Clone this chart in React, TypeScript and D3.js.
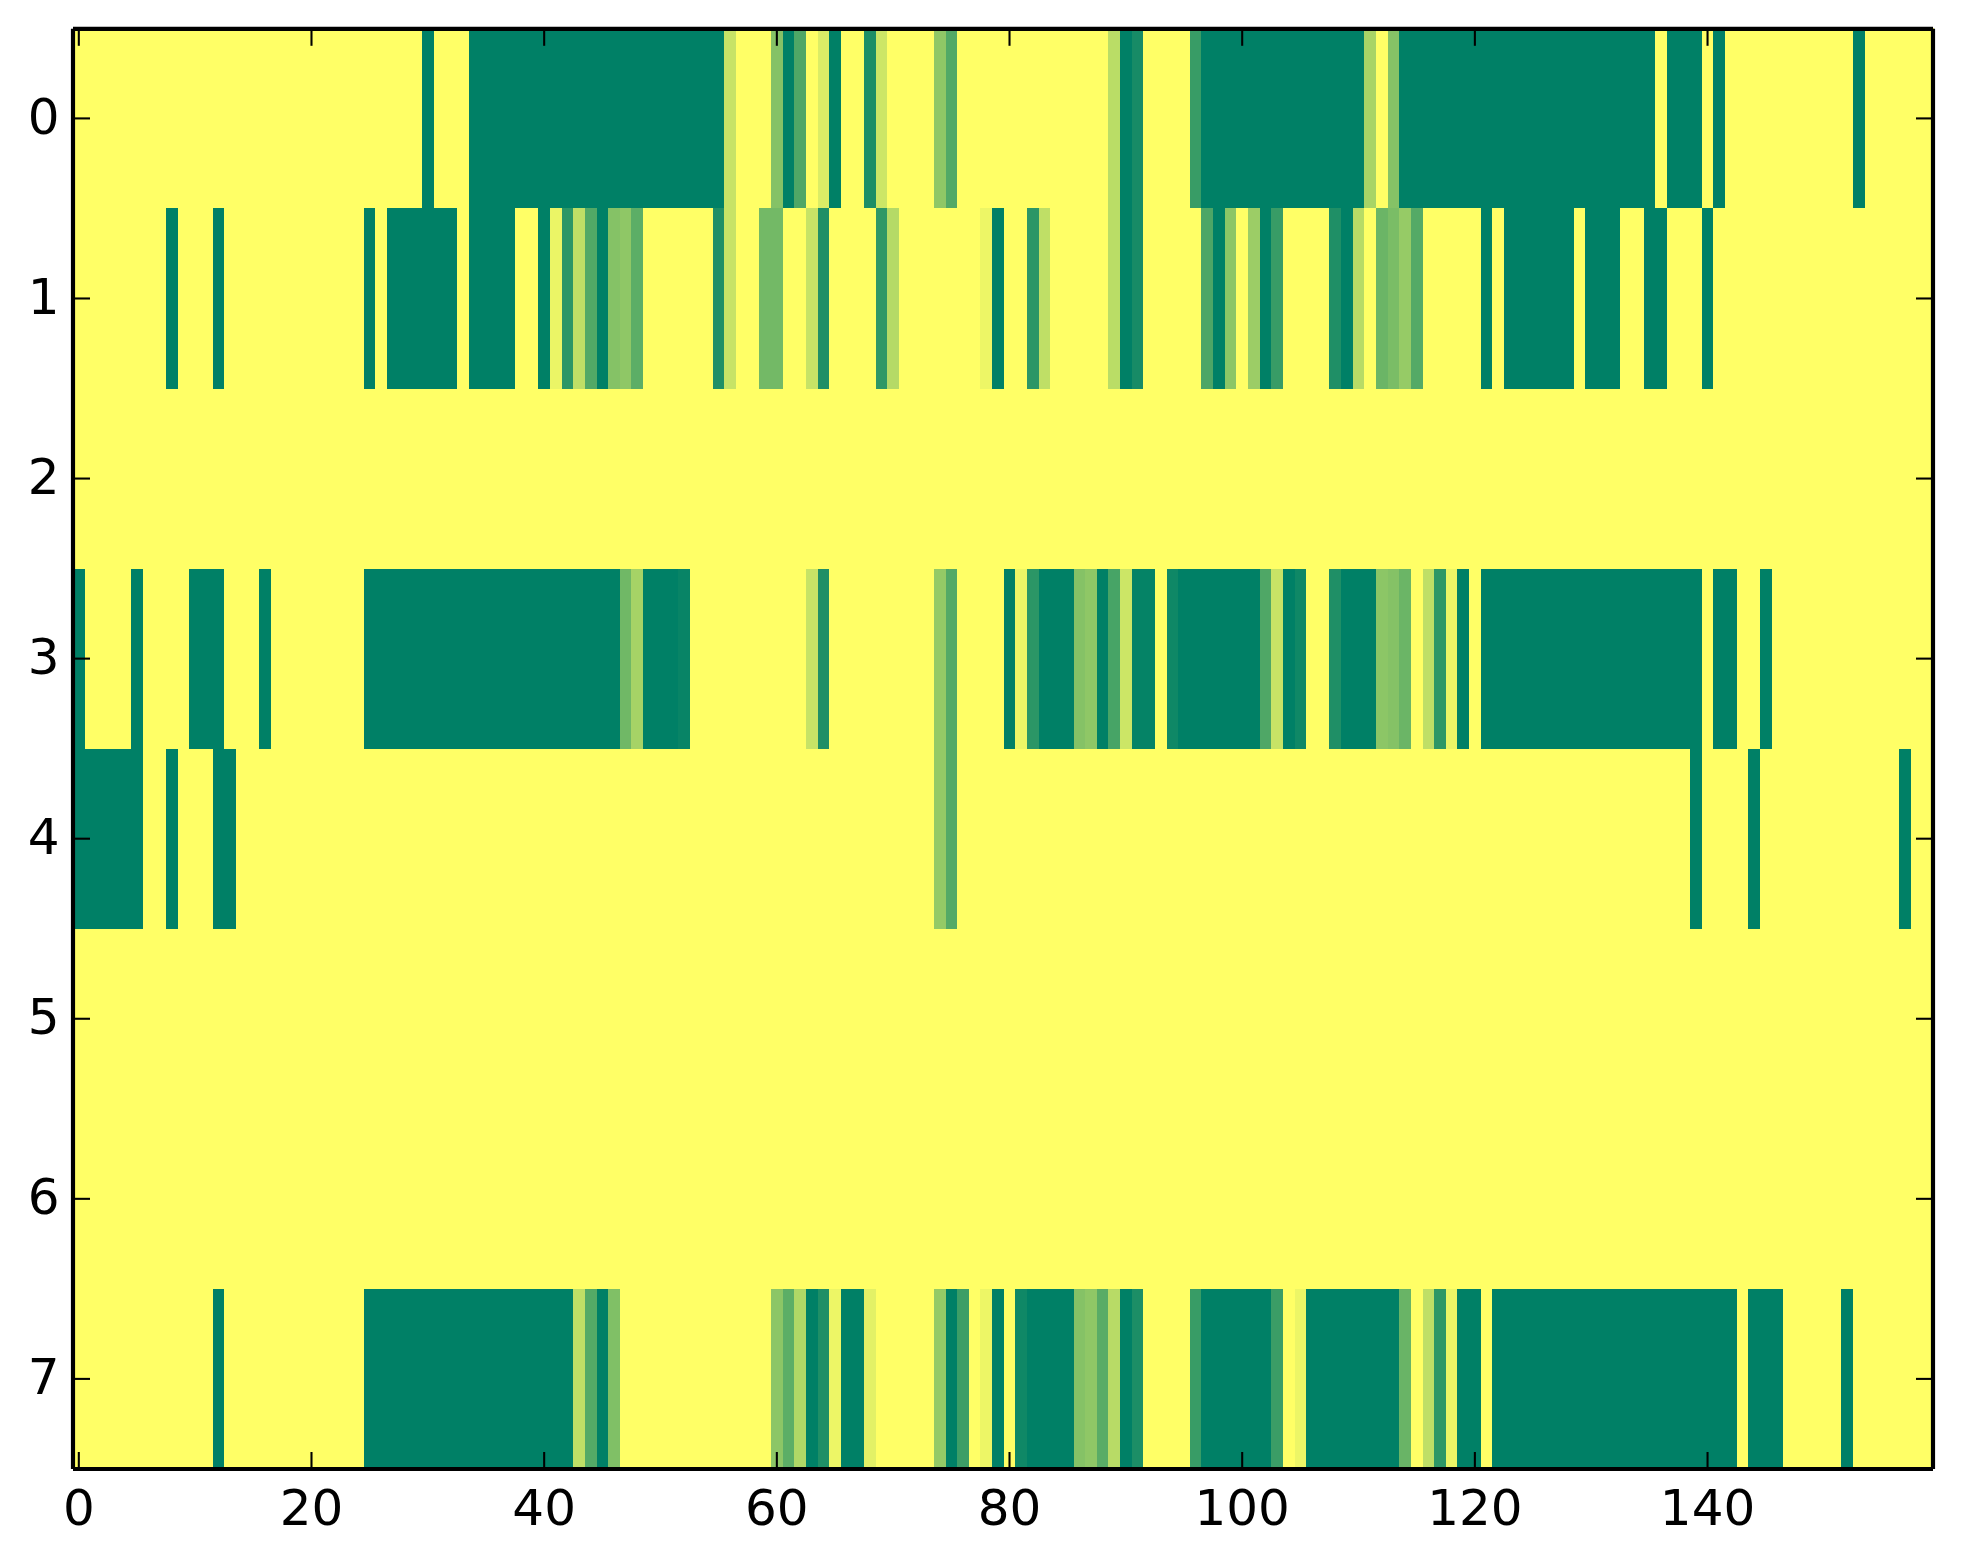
import { useRef, useEffect } from 'react';
import * as d3 from 'd3';

const WIDTH = 1963;
const HEIGHT = 1564;
const COLUMNS = 160;

// runs of cells per row: [first column, last column, value], everything else is 0
type Run = [number, number, number];

const row0: Run[] = [
  [30, 30, 1], [34, 55, 1], [56, 56, 0.22], [60, 60, 0.48], [61, 61, 1], [62, 62, 0.69],
  [64, 64, 0.14], [65, 65, 1], [68, 68, 0.89], [69, 69, 0.2], [74, 74, 0.44], [75, 75, 0.68],
  [89, 89, 0.27], [90, 90, 1], [91, 91, 0.91], [96, 96, 0.78], [97, 110, 1], [111, 111, 0.34],
  [113, 113, 0.48], [114, 135, 1], [137, 139, 1], [141, 141, 1], [153, 153, 1],
];
const row1: Run[] = [
  [8, 8, 1], [12, 12, 1], [25, 25, 1], [27, 32, 1], [34, 37, 1], [40, 40, 1], [41, 41, 0.08],
  [42, 42, 0.83], [43, 43, 0.25], [44, 44, 0.68], [45, 45, 1], [46, 46, 0.48], [47, 47, 0.44],
  [48, 48, 0.64], [55, 55, 0.88], [56, 56, 0.22], [59, 60, 0.55], [63, 63, 0.22], [64, 64, 0.88],
  [69, 69, 0.82], [70, 70, 0.29], [78, 78, 0.07], [79, 79, 1], [82, 82, 0.83], [83, 83, 0.25],
  [89, 89, 0.27], [90, 90, 1], [91, 91, 0.91], [97, 97, 0.7], [98, 98, 1], [99, 99, 0.45],
  [101, 101, 0.39], [102, 102, 1], [103, 103, 0.78], [108, 108, 0.88], [109, 109, 1],
  [110, 110, 0.28], [112, 112, 0.58], [113, 113, 0.52], [114, 114, 0.41], [115, 115, 0.67],
  [121, 121, 1], [123, 128, 1], [130, 132, 1], [135, 136, 1], [140, 140, 1],
];
const row2: Run[] = [];
const row3: Run[] = [
  [0, 0, 1], [5, 5, 1], [10, 12, 1], [16, 16, 1], [25, 46, 1], [47, 47, 0.56], [48, 48, 0.35],
  [49, 51, 1], [52, 52, 0.97], [63, 63, 0.22], [64, 64, 0.88], [74, 74, 0.42], [75, 75, 0.67],
  [80, 80, 1], [81, 81, 0.07], [82, 82, 0.83], [83, 85, 1], [86, 86, 0.48], [87, 87, 0.44],
  [88, 88, 1], [89, 89, 0.72], [90, 90, 0.2], [91, 92, 0.98], [94, 94, 0.94], [95, 101, 1],
  [102, 102, 0.69], [103, 103, 0.22], [104, 104, 1], [105, 105, 0.94], [108, 108, 0.88],
  [109, 111, 1], [112, 112, 0.45], [113, 113, 0.48], [114, 114, 0.58], [116, 116, 0.25],
  [117, 117, 0.82], [118, 118, 0.08], [119, 119, 1], [121, 139, 1], [141, 142, 1], [145, 145, 1],
];
const row4: Run[] = [
  [0, 5, 1], [8, 8, 1], [12, 13, 1], [74, 74, 0.42], [75, 75, 0.67], [139, 139, 1],
  [144, 144, 1], [157, 157, 1],
];
const row5: Run[] = [];
const row6: Run[] = [];
const row7: Run[] = [
  [12, 12, 1], [25, 42, 1], [43, 43, 0.25], [44, 44, 0.67], [45, 45, 1], [46, 46, 0.5],
  [60, 60, 0.45], [61, 61, 0.64], [62, 62, 0.31], [63, 63, 1], [64, 64, 0.88], [65, 65, 0.07],
  [66, 67, 1], [68, 68, 0.11], [74, 74, 0.42], [75, 75, 1], [76, 76, 0.76], [78, 78, 0.07],
  [79, 79, 1], [81, 81, 0.94], [82, 85, 1], [86, 86, 0.48], [87, 87, 0.44], [88, 88, 0.65],
  [89, 89, 0.28], [90, 90, 1], [91, 91, 0.89], [96, 96, 0.78], [97, 102, 1], [103, 103, 0.77],
  [105, 105, 0.07], [106, 113, 1], [114, 114, 0.59], [116, 116, 0.25], [117, 117, 0.82],
  [118, 118, 0.08], [119, 120, 1], [122, 142, 1], [144, 146, 1], [152, 152, 1],
];

const rows = [row0, row1, row2, row3, row4, row5, row6, row7];
const xTicks = [0, 20, 40, 60, 80, 100, 120, 140];
const yTicks = [0, 1, 2, 3, 4, 5, 6, 7];

interface Cell {
  row: number;
  col: number;
  value: number;
}

function buildCells(): Cell[] {
  const cells: Cell[] = [];
  rows.forEach((runs, row) => {
    const values = new Array<number>(COLUMNS).fill(0);
    runs.forEach(([first, last, value]) => {
      for (let c = first; c <= last; c++) values[c] = value;
    });
    values.forEach((value, col) => cells.push({ row, col, value }));
  });
  return cells;
}

export default function App() {
  const svgRef = useRef<SVGSVGElement>(null);

  useEffect(() => {
    const svg = d3.select(svgRef.current);
    svg.selectAll('*').remove();

    const left = 73;
    const right = 1933;
    const top = 28.8;
    const bottom = 1469;
    const tickLen = 17;

    const x = d3.scaleLinear().domain([-0.5, COLUMNS - 0.5]).range([73, 1934.4]);
    const y = d3.scaleLinear().domain([-0.5, rows.length - 0.5]).range([28.38, 1468.94]);
    // summer_r colormap
    const color = d3.scaleLinear<string>().domain([0, 1]).range(['#ffff66', '#008066']);

    // Cells
    svg.append('g')
      .attr('shape-rendering', 'crispEdges')
      .selectAll('rect')
      .data(buildCells())
      .join('rect')
      .attr('x', (d) => x(d.col - 0.5))
      .attr('y', (d) => y(d.row - 0.5))
      .attr('width', (d) => x(d.col + 0.5) - x(d.col - 0.5))
      .attr('height', (d) => y(d.row + 0.5) - y(d.row - 0.5))
      .attr('fill', (d) => color(d.value));

    const styleAxis = (sel: d3.Selection<SVGGElement, unknown, null, undefined>) => {
      sel.select('.domain').remove();
      sel.selectAll('.tick line').attr('stroke', '#000').attr('stroke-width', 2.08);
      sel.selectAll('.tick text')
        .attr('fill', '#000')
        .attr('font-size', 50)
        .attr('font-family', "'DejaVu Sans', sans-serif");
    };

    // Ticks point inward on all four sides
    const bottomAxis = svg.append('g')
      .attr('transform', `translate(0,${bottom})`)
      .call(d3.axisBottom(x).tickValues(xTicks).tickSize(-tickLen).offset(0).tickFormat((d) => String(d)));
    styleAxis(bottomAxis as any);
    bottomAxis.selectAll('.tick text').attr('y', 55.5).attr('dy', 0).attr('text-anchor', 'middle');

    const topAxis = svg.append('g')
      .attr('transform', `translate(0,${top})`)
      .call(d3.axisTop(x).tickValues(xTicks).tickSize(-tickLen).offset(0).tickFormat(() => ''));
    styleAxis(topAxis as any);

    const leftAxis = svg.append('g')
      .attr('transform', `translate(${left},0)`)
      .call(d3.axisLeft(y).tickValues(yTicks).tickSize(-tickLen).offset(0).tickFormat((d) => String(d)));
    styleAxis(leftAxis as any);
    leftAxis.selectAll('.tick text').attr('x', -13.5).attr('dy', 15.5).attr('text-anchor', 'end');

    const rightAxis = svg.append('g')
      .attr('transform', `translate(${right},0)`)
      .call(d3.axisRight(y).tickValues(yTicks).tickSize(-tickLen).offset(0).tickFormat(() => ''));
    styleAxis(rightAxis as any);

    // Frame: four separate spines with butt ends, so the corners stay notched
    const spines: [number, number, number, number][] = [
      [left, top, right, top],
      [right, top, right, bottom],
      [right, bottom, left, bottom],
      [left, bottom, left, top],
    ];
    svg.append('g')
      .selectAll('line')
      .data(spines)
      .join('line')
      .attr('x1', (d) => d[0])
      .attr('y1', (d) => d[1])
      .attr('x2', (d) => d[2])
      .attr('y2', (d) => d[3])
      .attr('stroke', '#000')
      .attr('stroke-width', 4.17);
  }, []);

  return (
    <svg
      ref={svgRef}
      width={WIDTH}
      height={HEIGHT}
      viewBox={`0 0 ${WIDTH} ${HEIGHT}`}
      style={{ position: 'absolute', left: 0, top: 0, display: 'block', background: '#fff' }}
    />
  );
}
